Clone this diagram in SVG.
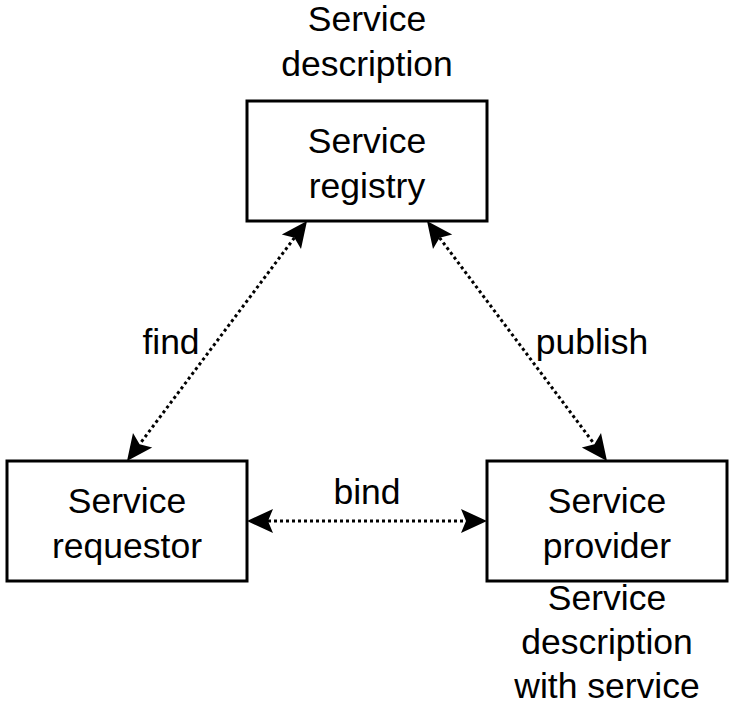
<svg xmlns="http://www.w3.org/2000/svg" width="731" height="707" viewBox="0 0 731 707">
<style>
.box{fill:#fff;stroke:#000;stroke-width:3}
.t{font-family:"Liberation Sans",Arial,sans-serif;font-size:35.5px;fill:#000;text-anchor:middle}
.edge{fill:none;stroke:#000;stroke-width:3;stroke-dasharray:3 3}
</style>
<defs>
<marker id="arr" markerUnits="userSpaceOnUse" viewBox="-6 -13 28 26" markerWidth="28" markerHeight="26" refX="0" refY="0" orient="auto-start-reverse" overflow="visible">
<path d="M21,0 L-5,-12 L0,0 L-5,12 Z" fill="#000"/>
</marker>
</defs>
<rect width="731" height="707" fill="#fff"/>
<g id="connectors">
<line class="edge" x1="294.4" y1="237.8" x2="139.6" y2="444.2" marker-start="url(#arr)" marker-end="url(#arr)"/>
<line class="edge" x1="439.6" y1="237.8" x2="594.4" y2="444.2" marker-start="url(#arr)" marker-end="url(#arr)"/>
<line class="edge" x1="268" y1="521" x2="466" y2="521" marker-start="url(#arr)" marker-end="url(#arr)"/>
<text class="t" x="171" y="353.5">find</text>
<text class="t" x="592" y="353.5">publish</text>
<text class="t" x="367" y="503.5">bind</text>
</g>
<g id="registry">
<rect class="box" x="247" y="101" width="240" height="120"/>
<text class="t" x="367" y="152.5">Service</text>
<text class="t" x="367" y="197.5">registry</text>
</g>
<g id="requestor">
<rect class="box" x="7" y="461" width="240" height="120"/>
<text class="t" x="127" y="512.5">Service</text>
<text class="t" x="127" y="557.5">requestor</text>
</g>
<g id="provider">
<rect class="box" x="487" y="461" width="240" height="120"/>
<text class="t" x="607" y="512.5">Service</text>
<text class="t" x="607" y="557.5">provider</text>
</g>
<g id="desc-top">
<text class="t" x="367" y="31">Service</text>
<text class="t" x="367" y="76">description</text>
</g>
<g id="desc-bottom">
<text class="t" x="607" y="609.5">Service</text>
<text class="t" x="607" y="654">description</text>
<text class="t" x="607" y="698">with service</text>
</g>
</svg>
